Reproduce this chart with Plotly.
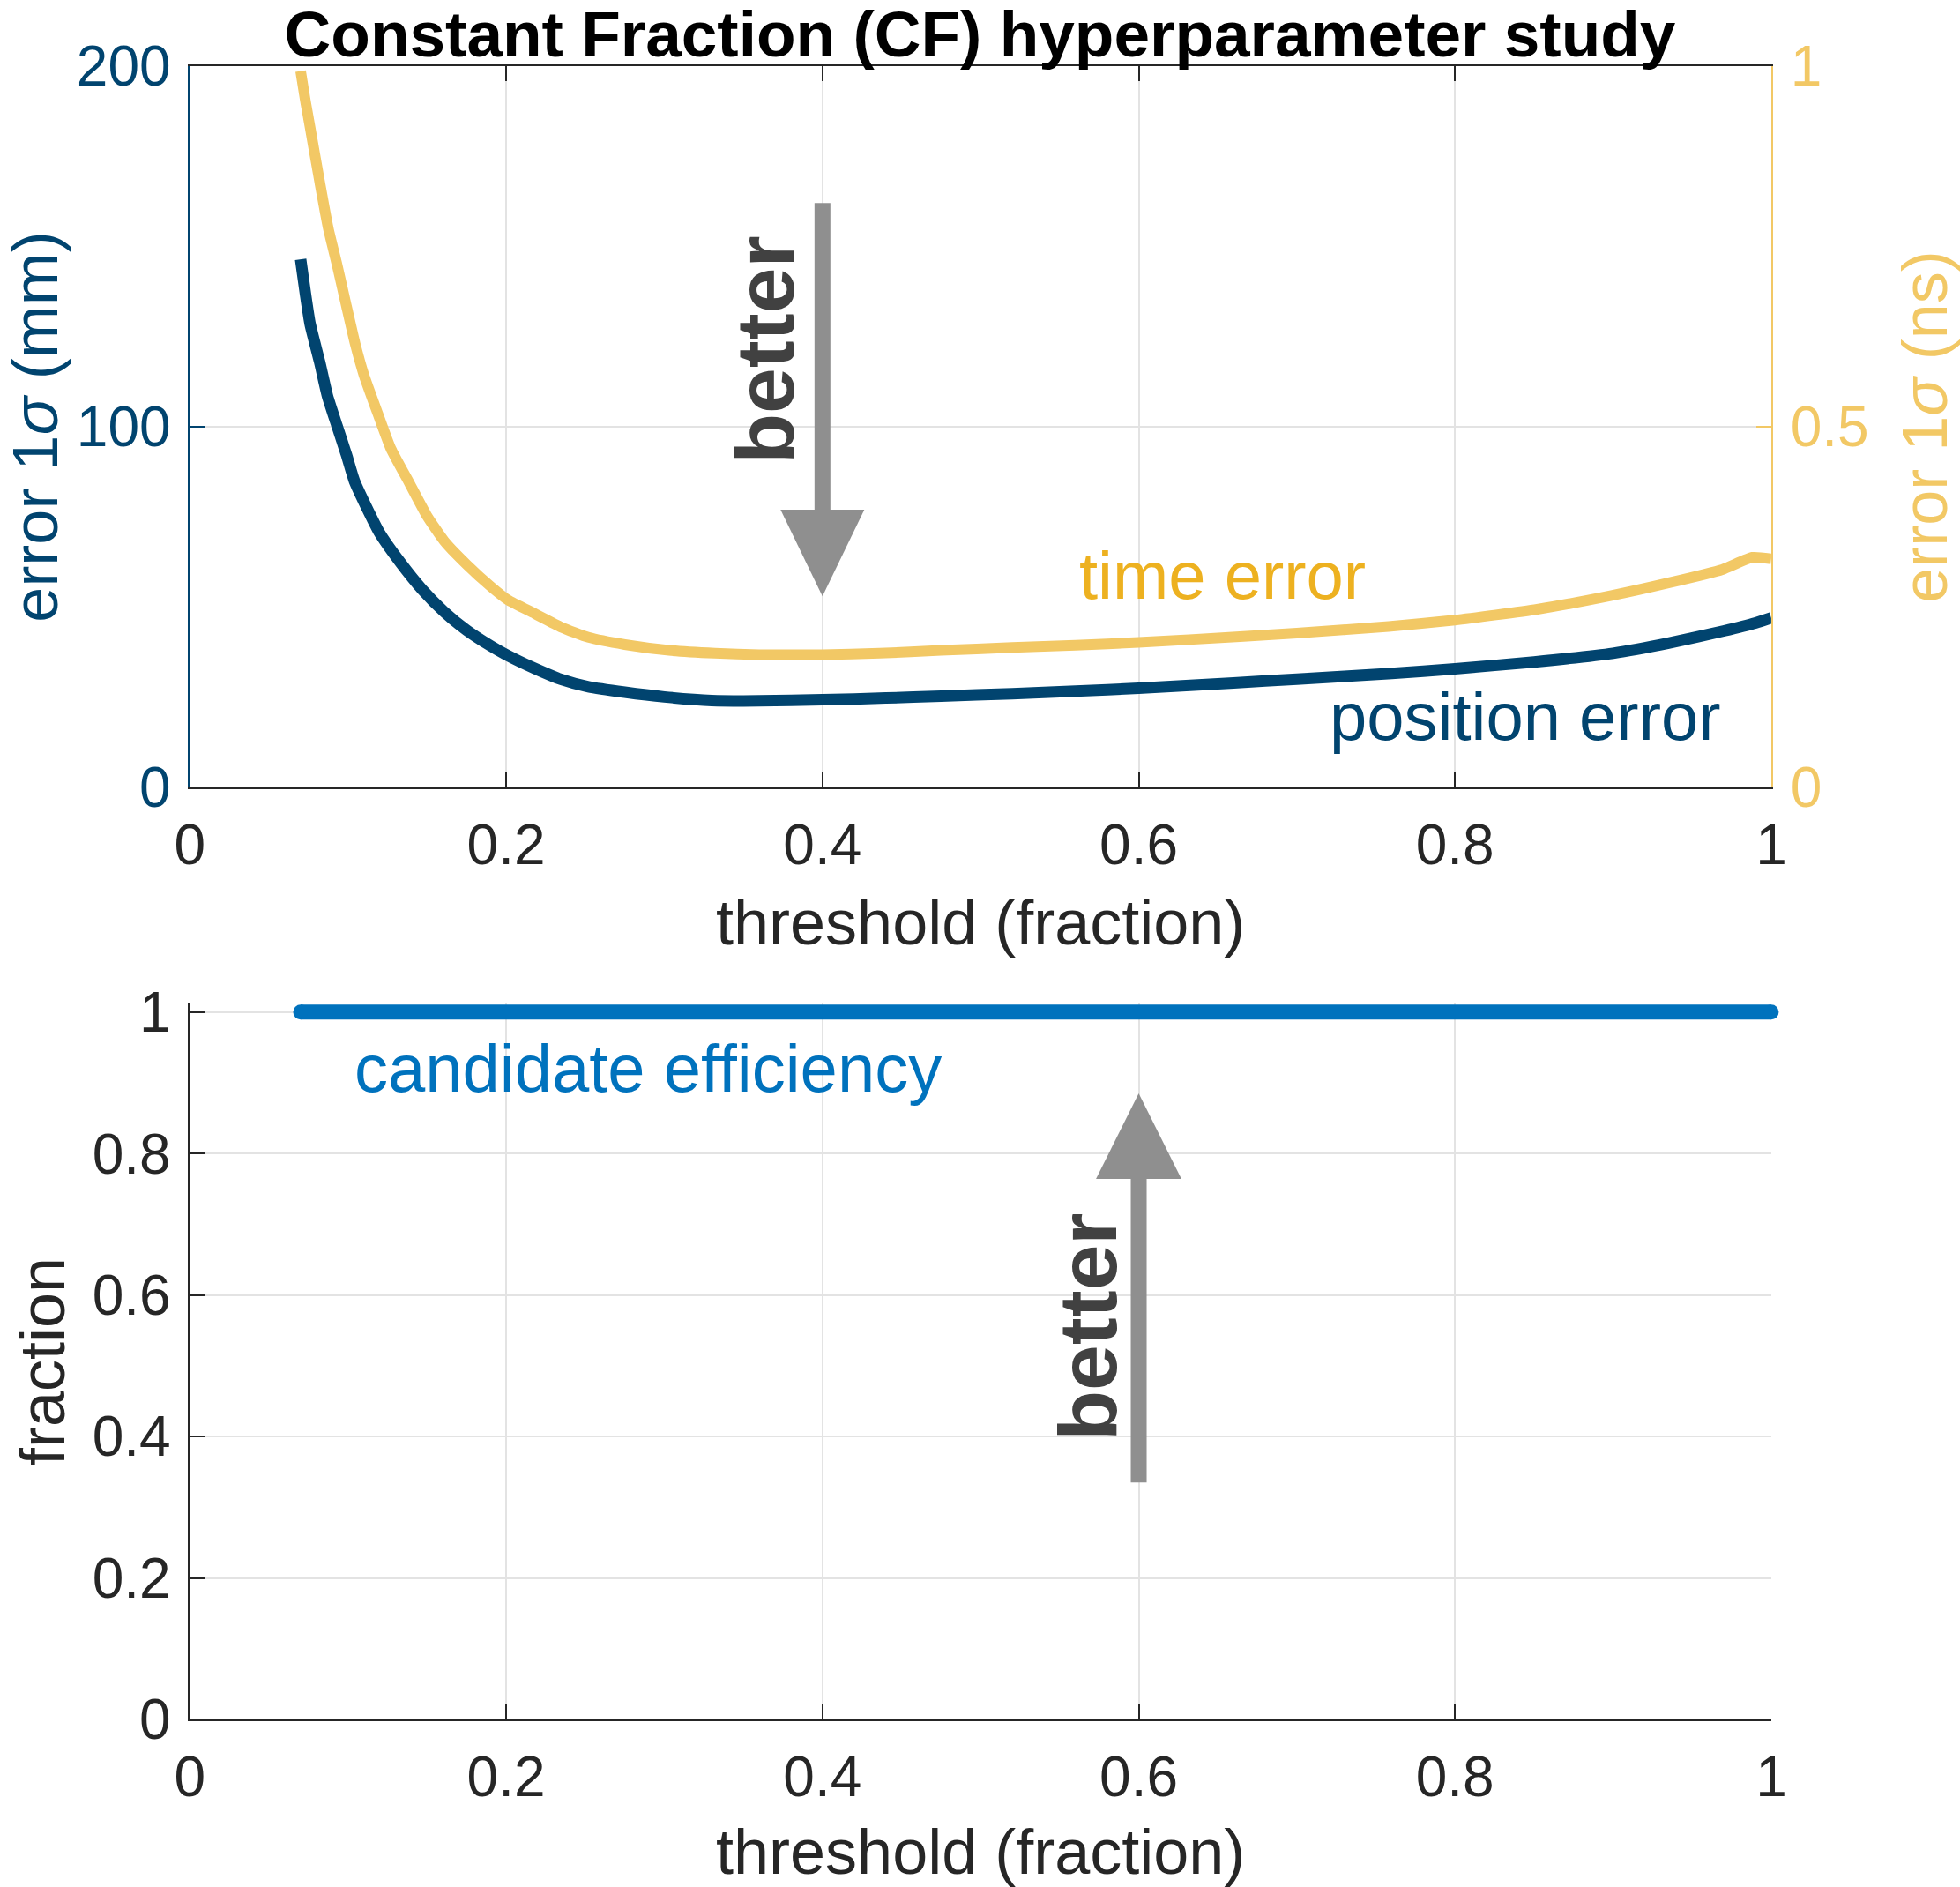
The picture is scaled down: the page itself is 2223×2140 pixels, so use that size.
import plotly.graph_objects as go

# ---------------- data ----------------
threshold_pos = [0.07, 0.073, 0.076, 0.082, 0.087, 0.093, 0.099, 0.104, 0.113, 0.12,
                 0.133, 0.147, 0.161, 0.175, 0.19, 0.2, 0.218, 0.235, 0.252, 0.275,
                 0.3, 0.33, 0.36, 0.4, 0.44, 0.475, 0.52, 0.56, 0.6, 0.66,
                 0.7, 0.76, 0.8, 0.85, 0.9, 0.935, 0.97, 0.99, 1.0]
position_error_mm = [146.4, 137.0, 128.5, 118.0, 108.5, 100.3, 92.2, 85.0, 76.5, 70.5,
                     62.4, 54.8, 48.6, 43.6, 39.3, 36.8, 33.0, 29.9, 27.9, 26.4,
                     25.1, 24.1, 24.0, 24.3, 24.8, 25.3, 26.0, 26.7, 27.5, 29.0,
                     30.0, 31.6, 32.9, 34.8, 37.2, 40.0, 43.4, 45.6, 47.0]

threshold_time = [0.07, 0.073, 0.076, 0.082, 0.0875, 0.093, 0.099, 0.1045, 0.11, 0.119,
                  0.127, 0.139, 0.15, 0.161, 0.175, 0.19, 0.201, 0.218, 0.235, 0.252,
                  0.275, 0.303, 0.332, 0.36, 0.4, 0.436, 0.475, 0.52, 0.56, 0.6,
                  0.664, 0.7, 0.758, 0.8, 0.852, 0.899, 0.936, 0.969, 0.988, 1.0]
time_error_ns = [0.993, 0.952, 0.915, 0.84, 0.775, 0.725, 0.667, 0.615, 0.572, 0.517,
                 0.47, 0.421, 0.376, 0.341, 0.309, 0.279, 0.26, 0.241, 0.222, 0.208,
                 0.198, 0.19, 0.186, 0.184, 0.184, 0.186, 0.19, 0.194, 0.197, 0.201,
                 0.209, 0.214, 0.223, 0.232, 0.247, 0.266, 0.284, 0.302, 0.319, 0.317]

threshold_eff = [0.07, 1.0]
candidate_efficiency = [1.0, 1.0]

x_ticks = [0, 0.2, 0.4, 0.6, 0.8, 1]
x_tick_labels = ["0", "0.2", "0.4", "0.6", "0.8", "1"]
mm_ticks = [0, 100, 200]
mm_tick_labels = ["0", "100", "200"]
ns_ticks = [0, 0.5, 1]
ns_tick_labels = ["0", "0.5", "1"]
frac_ticks = [0, 0.2, 0.4, 0.6, 0.8, 1]
frac_tick_labels = ["0", "0.2", "0.4", "0.6", "0.8", "1"]

# arrows: (x, tail, head base, tip, half width of head)
arrow_top = dict(x=0.4, tail=162.0, base=77.0, tip=53.0, half=0.0265)
arrow_bottom = dict(x=0.6, tail=0.335, base=0.764, tip=0.885, half=0.027)

# ---------------- style ----------------
FONT = "Liberation Sans"
NAVY = "#01446F"
YELLOW = "#F2C865"
YELLOW_TEXT = "#EDB120"
BLUE = "#0072BD"
DARK = "#262626"
GRID = "#E3E3E3"
GRAY = "#8F8F8F"
BETTER = "#414141"
TICK = 64
LABEL = 72
ANN = 76

XDOM = [0.0969, 0.9037]
TOPDOM = [0.5827, 0.965]
BOTDOM = [0.0888, 0.4682]

fig = go.Figure()

fig.add_trace(go.Scatter(x=threshold_pos, y=position_error_mm, mode="lines",
                         line=dict(color=NAVY, width=13, shape="spline", smoothing=0.5),
                         xaxis="x", yaxis="y", name="position error", showlegend=False))
fig.add_trace(go.Scatter(x=threshold_time, y=time_error_ns, mode="lines",
                         line=dict(color=YELLOW, width=12, shape="spline", smoothing=0.5),
                         xaxis="x", yaxis="y2", name="time error", showlegend=False))
fig.add_trace(go.Scatter(x=threshold_eff, y=candidate_efficiency, mode="lines+markers",
                         line=dict(color=BLUE, width=17),
                         marker=dict(color=BLUE, size=17, line=dict(width=0)),
                         xaxis="x2", yaxis="y3",
                         name="candidate efficiency", showlegend=False, cliponaxis=False))

tickfont = dict(family=FONT, size=TICK, color=DARK)
titlefont = dict(family=FONT, size=LABEL, color=DARK)

common_x = dict(range=[0, 1], tickvals=x_ticks, ticktext=x_tick_labels,
                ticks="inside", ticklen=17, tickwidth=2, tickcolor=DARK,
                showline=True, linecolor=DARK, linewidth=2, automargin=False,
                showgrid=True, gridcolor=GRID, gridwidth=2, zeroline=False,
                tickfont=tickfont, ticklabelstandoff=8, domain=XDOM)

fig.update_layout(
    width=2223, height=2140,
    paper_bgcolor="white", plot_bgcolor="white",
    margin=dict(l=0, r=0, t=0, b=0, autoexpand=False),
    font=dict(family=FONT, color=DARK),
    title=dict(text="<b>Constant Fraction (CF) hyperparameter study</b>",
               font=dict(family=FONT, size=73, color="black"),
               x=0.5, xanchor="center", y=0.994, yanchor="top"),
    xaxis=dict(**common_x, anchor="y", mirror="ticks",
               title=dict(text="threshold (fraction)", font=titlefont, standoff=28)),
    yaxis=dict(domain=TOPDOM, anchor="x", range=[0, 200], tickvals=mm_ticks,
               ticktext=mm_tick_labels, ticks="inside", ticklen=17, tickwidth=2,
               tickcolor=NAVY, showline=True, linecolor=NAVY, linewidth=2, automargin=False,
               showgrid=True, gridcolor=GRID, gridwidth=2, zeroline=False,
               tickfont=dict(family=FONT, size=TICK, color=NAVY), ticklabelstandoff=7,
               title=dict(text="error 1<i>σ</i> (mm)",
                          font=dict(family=FONT, size=LABEL, color=NAVY), standoff=44)),
    yaxis2=dict(overlaying="y", side="right", anchor="x", range=[0, 1],
                tickvals=ns_ticks, ticktext=ns_tick_labels, ticks="inside", ticklen=17,
                tickwidth=2, tickcolor=YELLOW, showline=True, linecolor=YELLOW,
                linewidth=2, showgrid=False, zeroline=False, automargin=False,
                tickfont=dict(family=FONT, size=TICK, color=YELLOW), ticklabelstandoff=7,
                title=dict(text="error 1<i>σ</i> (ns)",
                           font=dict(family=FONT, size=LABEL, color=YELLOW), standoff=45)),
    xaxis2=dict(**common_x, anchor="y3", mirror=False,
                title=dict(text="threshold (fraction)", font=titlefont, standoff=28)),
    yaxis3=dict(domain=BOTDOM, anchor="x2", range=[0, 1.012], tickvals=frac_ticks,
                ticktext=frac_tick_labels, ticks="inside", ticklen=17, tickwidth=2,
                tickcolor=DARK, showline=True, linecolor=DARK, linewidth=2, automargin=False,
                showgrid=True, gridcolor=GRID, gridwidth=2, zeroline=False,
                tickfont=tickfont, ticklabelstandoff=7,
                title=dict(text="fraction", font=titlefont, standoff=7)),
)

# arrows
def add_arrow(a, xref, yref):
    fig.add_shape(type="line", xref=xref, yref=yref, x0=a["x"], x1=a["x"],
                  y0=a["tail"], y1=a["base"], line=dict(color=GRAY, width=18))
    path = (f"M {a['x'] - a['half']},{a['base']} L {a['x'] + a['half']},{a['base']} "
            f"L {a['x']},{a['tip']} Z")
    fig.add_shape(type="path", xref=xref, yref=yref, path=path,
                  fillcolor=GRAY, line=dict(color=GRAY, width=0))

add_arrow(arrow_top, "x", "y")
add_arrow(arrow_bottom, "x2", "y3")

annotations = [
    dict(text="time error", x=0.561, y=58.9, xref="x", yref="y", xanchor="left",
         yanchor="middle", showarrow=False, font=dict(family=FONT, size=ANN, color=YELLOW_TEXT)),
    dict(text="position error", x=0.7195, y=19.8, xref="x", yref="y", xanchor="left",
         yanchor="middle", showarrow=False, font=dict(family=FONT, size=ANN, color=NAVY)),
    dict(text="candidate efficiency", x=0.103, y=0.92, xref="x2", yref="y3", xanchor="left",
         yanchor="middle", showarrow=False, font=dict(family=FONT, size=ANN, color=BLUE)),
    dict(text="<b>better</b>", x=0.3638, y=121.3, xref="x", yref="y", textangle=-90,
         xanchor="center", yanchor="middle", showarrow=False,
         font=dict(family=FONT, size=93, color=BETTER)),
    dict(text="<b>better</b>", x=0.568, y=0.555, xref="x2", yref="y3", textangle=-90,
         xanchor="center", yanchor="middle", showarrow=False,
         font=dict(family=FONT, size=93, color=BETTER)),
]
fig.update_layout(annotations=annotations)

fig.write_html("out.html", config={"displayModeBar": False},
               post_script="document.body.style.margin='0';document.body.style.padding='0';")
